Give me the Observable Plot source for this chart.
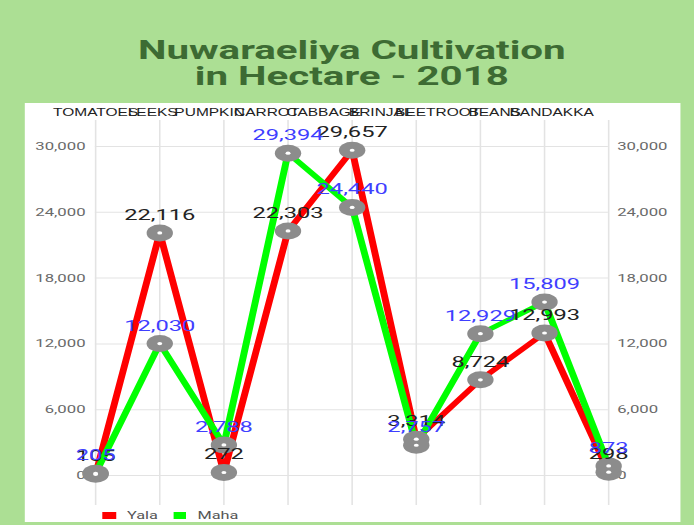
<!DOCTYPE html>
<html>
<head>
<meta charset="utf-8">
<script src="https://cdn.jsdelivr.net/npm/d3@7"></script>
<script src="https://cdn.jsdelivr.net/npm/@observablehq/plot@0.6"></script>
<style>
  html, body { margin: 0; padding: 0; background: #acdf94; overflow: hidden; }
  #stage { position: relative; width: 447.74px; height: 525px; transform: scaleX(1.55); transform-origin: 0 0; font-family: Roboto, "Liberation Sans", sans-serif; }
  #title { position: absolute; left: 0; top: 37px; width: 454px; text-align: center; font-weight: bold; font-size: 26px; line-height: 26px; color: #3d6b33; }
  #panel { position: absolute; left: 16.1px; top: 103px; width: 422.6px; height: 419px; background: #fff; }
  #panel svg { display: block; }
  #legend { position: absolute; left: 50.4px; top: 406px; font-size: 10.5px; color: #555; display: flex; align-items: center; }
  .sw { display: inline-block; width: 8.5px; height: 7.5px; margin-right: 7px; }
  .lab { margin-right: 10px; }
</style>
</head>
<body>
<div id="stage">
  <div id="title">Nuwaraeliya Cultivation<br>in Hectare - 2018</div>
  <div id="panel">
    <div id="chart"></div>
    <div id="legend">
      <span class="sw" style="background:#ff0000"></span><span class="lab">Yala</span>
      <span class="sw" style="background:#00ff00"></span><span class="lab">Maha</span>
    </div>
  </div>
</div>
<script>
const categories = ["TOMATOES", "LEEKS", "PUMPKIN", "CARROT", "CABBAGE", "BRINJAL", "BEETROOT", "BEANS", "BANDAKKA"];
const yala = [105, 22116, 272, 22303, 29657, 3314, 8724, 12993, 298];
const maha = [205, 12030, 2788, 29394, 24440, 2757, 12929, 15809, 873];
const yTicks = [0, 6000, 12000, 18000, 24000, 30000];
// top label slots (axis label spacing differs from the point spacing)
const topLabelSlots = categories.map((c, i) => i * 8 / 9);

const yalaRows = categories.map((c, i) => ({i, c, v: yala[i]}));
const mahaRows = categories.map((c, i) => ({i, c, v: maha[i]}));
const allRows = yalaRows.concat(mahaRows);
const fmt = d3.format(",");

const chart = Plot.plot({
  width: 422.6,
  height: 419,
  marginLeft: 45.2,
  marginRight: 46.4,
  marginTop: 17,
  marginBottom: 17,
  style: {fontFamily: "Roboto, 'Liberation Sans', sans-serif", background: "transparent", overflow: "visible"},
  x: {type: "linear", domain: [0, categories.length - 1], axis: null},
  y: {domain: [-2736, 32371], axis: null},
  marks: [
    Plot.ruleX(categories.map((c, i) => i), {stroke: "#e3e3e3", strokeWidth: 1}),
    Plot.ruleY(yTicks, {stroke: "#e3e3e3", strokeWidth: 1}),
    Plot.axisY({anchor: "left", ticks: yTicks, tickSize: 0, tickPadding: 6.5, tickFormat: fmt, fontSize: 10.8, fill: "#6a6a6a", label: null}),
    Plot.axisY({anchor: "right", ticks: yTicks, tickSize: 0, tickPadding: 5.5, tickFormat: fmt, fontSize: 10.8, fill: "#6a6a6a", label: null}),
    Plot.text(categories, {x: (d, i) => topLabelSlots[i], frameAnchor: "top", dy: -12, text: d => d, fontSize: 10, fontFamily: "'Liberation Sans', Arial, sans-serif", fill: "#222"}),
    Plot.line(yalaRows, {x: "i", y: "v", stroke: "#ff0000", strokeWidth: 4.5, strokeLinejoin: "miter"}),
    Plot.line(mahaRows, {x: "i", y: "v", stroke: "#00ff00", strokeWidth: 4.5, strokeLinejoin: "miter"}),
    Plot.dot(allRows, {x: "i", y: "v", r: 8.5, fill: "#8c8c8c"}),
    Plot.dot(allRows, {x: "i", y: "v", r: 1.6, fill: "#ffffff"}),
    Plot.text(yalaRows, {x: "i", y: "v", text: d => fmt(d.v), dy: -13, lineAnchor: "bottom", fontSize: 15.3, fill: "#222"}),
    Plot.text(mahaRows, {x: "i", y: "v", text: d => fmt(d.v), dy: -13, lineAnchor: "bottom", fontSize: 15.3, fill: "#3f3fff"})
  ]
});
document.getElementById("chart").appendChild(chart);
</script>
</body>
</html>
